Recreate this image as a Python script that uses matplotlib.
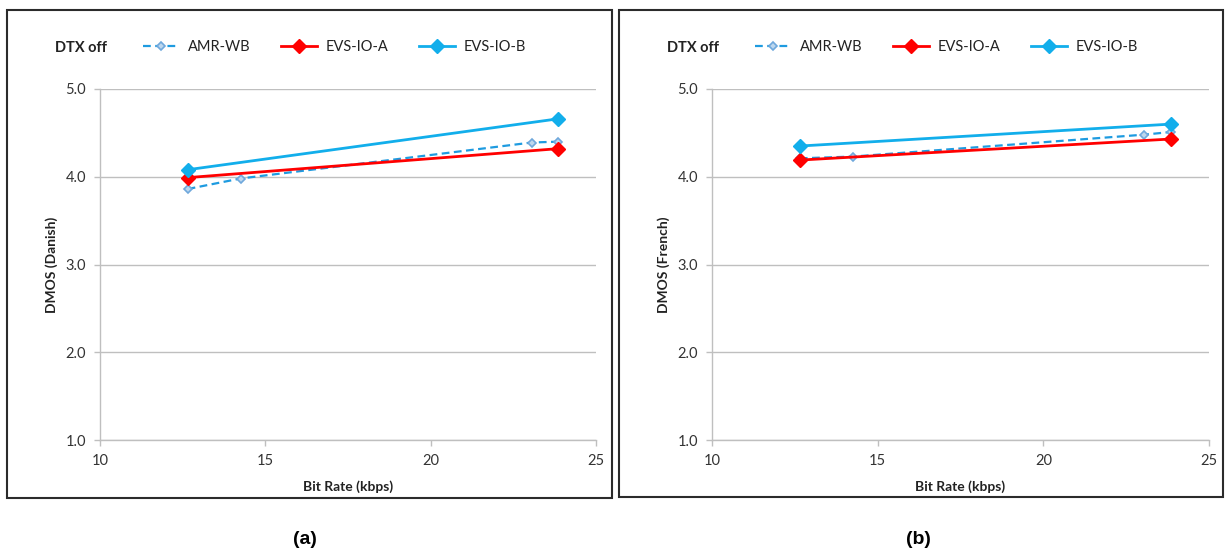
import matplotlib
matplotlib.use("Agg")
import matplotlib.pyplot as plt
from matplotlib.patches import Rectangle

W, H = 1225, 551
fig = plt.figure(figsize=(W / 100, H / 100), dpi=100)

series_names = ["AMR-WB", "EVS-IO-A", "EVS-IO-B"]
amr_x = [12.65, 14.25, 23.05, 23.85]
evs_x = [12.65, 23.85]

danish_amr = [3.86, 3.98, 4.39, 4.40]
danish_evs_a = [3.99, 4.32]
danish_evs_b = [4.08, 4.66]

french_amr = [4.21, 4.23, 4.48, 4.51]
french_evs_a = [4.19, 4.43]
french_evs_b = [4.35, 4.60]

ylabels = ["DMOS (Danish)", "DMOS (French)"]
captions = ["(a)", "(b)"]
xticks = [10, 15, 20, 25]
yticks = [1.0, 2.0, 3.0, 4.0, 5.0]

FONT = "Lato"
GRID = "#BFBFBF"
C_AMR = "#1E9BE0"
C_AMR_M = "#6FA8DC"
C_A = "#FF0000"
C_B = "#12AEEB"


def fx(px):
    return px / W


def fy(py):
    return 1 - py / H


panels = [
    dict(frame=(7, 10, 612, 498), ax=(100, 89, 596, 440),
         data=(danish_amr, danish_evs_a, danish_evs_b), ylabel=ylabels[0], cap=captions[0], capx=305),
    dict(frame=(619, 10, 1223, 497), ax=(712, 89, 1209, 440),
         data=(french_amr, french_evs_a, french_evs_b), ylabel=ylabels[1], cap=captions[1], capx=918),
]

for p in panels:
    x0, y0, x1, y1 = p["frame"]
    fig.patches.append(Rectangle((fx(x0), fy(y1)), fx(x1 - x0), (y1 - y0) / H,
                                 transform=fig.transFigure, fill=False,
                                 edgecolor="#2b2b2b", linewidth=1.5))
    ax0, ay0, ax1, ay1 = p["ax"]
    ax = fig.add_axes([fx(ax0), fy(ay1), fx(ax1 - ax0), (ay1 - ay0) / H])
    amr, ea, eb = p["data"]
    ax.plot(amr_x, amr, linestyle=(0, (3.5, 2)), color=C_AMR, linewidth=1.6,
            marker="D", markersize=4.5, markerfacecolor="#BDD7EE",
            markeredgecolor=C_AMR_M, markeredgewidth=1.2, label=series_names[0], zorder=3)
    ax.plot(evs_x, ea, color=C_A, linewidth=2.0, marker="D", markersize=7,
            markerfacecolor=C_A, markeredgecolor=C_A, label=series_names[1], zorder=4)
    ax.plot(evs_x, eb, color=C_B, linewidth=2.0, marker="D", markersize=7,
            markerfacecolor=C_B, markeredgecolor=C_B, label=series_names[2], zorder=4)
    ax.set_xlim(10, 25)
    ax.set_ylim(1.0, 5.0)
    ax.set_xticks(xticks)
    ax.set_yticks(yticks)
    ax.set_xticklabels([str(v) for v in xticks], fontfamily=FONT, fontsize=10.5, color="#333333")
    ax.set_yticklabels([f"{v:.1f}" for v in yticks], fontfamily=FONT, fontsize=10.5, color="#333333")
    ax.grid(axis="y", color=GRID, linewidth=1.0)
    ax.set_axisbelow(True)
    for s in ("top", "right"):
        ax.spines[s].set_visible(False)
    for s in ("left", "bottom"):
        ax.spines[s].set_color(GRID)
        ax.spines[s].set_linewidth(1.0)
    ax.tick_params(axis="both", color=GRID, length=4, width=1.0)
    ax.tick_params(axis="y", pad=6)
    ax.tick_params(axis="x", pad=6)
    ax.set_xlabel("Bit Rate (kbps)", fontfamily=FONT, fontsize=10, fontweight="bold",
                  color="#222222")
    ax.set_ylabel(p["ylabel"], fontfamily=FONT, fontsize=10, fontweight="bold",
                  color="#222222")
    ax.yaxis.set_label_coords(-48 / (ax1 - ax0), 0.5)
    ax.xaxis.set_label_coords(0.5, -(487 - ay1) / (ay1 - ay0))
    ax.xaxis.label.set_va("center")
    ax.yaxis.label.set_va("center")
    # legend
    fig.text(fx(ax0 - 45), fy(48), "DTX off", fontfamily=FONT, fontsize=10.5,
             fontweight="bold", va="center", ha="left", color="#222222")
    leg = ax.legend(loc="center left", bbox_to_anchor=(fx(ax0 + 43), fy(47)),
                    bbox_transform=fig.transFigure, ncol=3, frameon=False,
                    handlelength=2.5, handletextpad=0.6, columnspacing=2.05,
                    prop={"family": FONT, "size": 10.5}, borderaxespad=0, borderpad=0)
    for t in leg.get_texts():
        t.set_color("#222222")
    fig.text(fx(p["capx"]), fy(540), p["cap"], fontfamily="Liberation Sans", fontsize=14,
             fontweight="bold", ha="center", va="center")

fig.savefig("out.png", dpi=100)
